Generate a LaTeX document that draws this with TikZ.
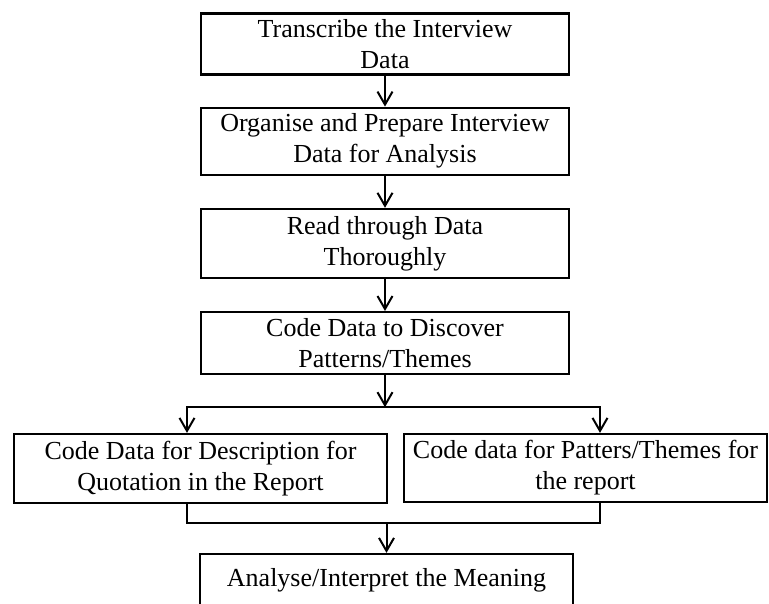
\documentclass[tikz,border=0pt]{standalone}
\usepackage{fontspec}
\setmainfont{Liberation Serif}
\usepackage{tikz}
\usetikzlibrary{positioning, arrows.meta}
\tikzstyle{stage} = [rectangle, draw=black, line width=2.2pt, minimum width=368pt, minimum height=61pt, inner sep=0pt, align=center, font=\fontsize{26}{31}\selectfont]
\tikzstyle{arrow} = [line width=2pt, -{Straight Barb[length=13pt, width=15pt, line width=2pt]}]
\tikzstyle{line} = [line width=2pt, line join=miter]

\begin{document}
\begin{tikzpicture}[node distance=32pt]
			\useasboundingbox (0pt,0pt) rectangle (769pt,-603pt);
			\node (transcribe) [stage] at (385pt,-44pt) {Transcribe the Interview\\Data};
			\node (organise) [stage, minimum height=67pt, below=31pt of transcribe] {Organise and Prepare Interview\\Data for Analysis};
			\node (read) [stage, minimum height=69pt, below=32pt of organise] {Read through Data\\Thoroughly};
			\node (code) [stage, minimum height=62pt, below=32pt of read] {Code Data to Discover\\Patterns/Themes};
			\coordinate (split) at ([yshift=-32pt]code.south);
			\node (quote) [stage, minimum width=373pt, minimum height=69pt] at (200.5pt,-468.5pt) {Code Data for Description for\\Quotation in the Report};
			\node (patterns) [stage, minimum width=363pt, minimum height=68pt] at (585.5pt,-468pt) {Code data for Patters/Themes for\\the report};
			\node (analyse) [stage, minimum width=373pt, minimum height=52pt] at (386.5pt,-580pt) {Analyse/Interpret the Meaning};
			\coordinate (merge) at ([yshift=-19pt]quote.south -| analyse.north);

			\draw [arrow] (transcribe) -- (organise);
			\draw [arrow] (organise) -- (read);
			\draw [arrow] (read) -- (code);
			\draw [arrow] (code) -- (split);
			\draw [arrow] (split) -| ([xshift=-13.5pt]quote.north);
			\draw [arrow] (split) -| ([xshift=14.5pt]patterns.north);
			\draw [line] ([xshift=-13.5pt]quote.south) |- (merge);
			\draw [line] ([xshift=14.5pt]patterns.south) |- (merge);
			\draw [arrow] (merge) -- (analyse);
		\end{tikzpicture}
\end{document}
